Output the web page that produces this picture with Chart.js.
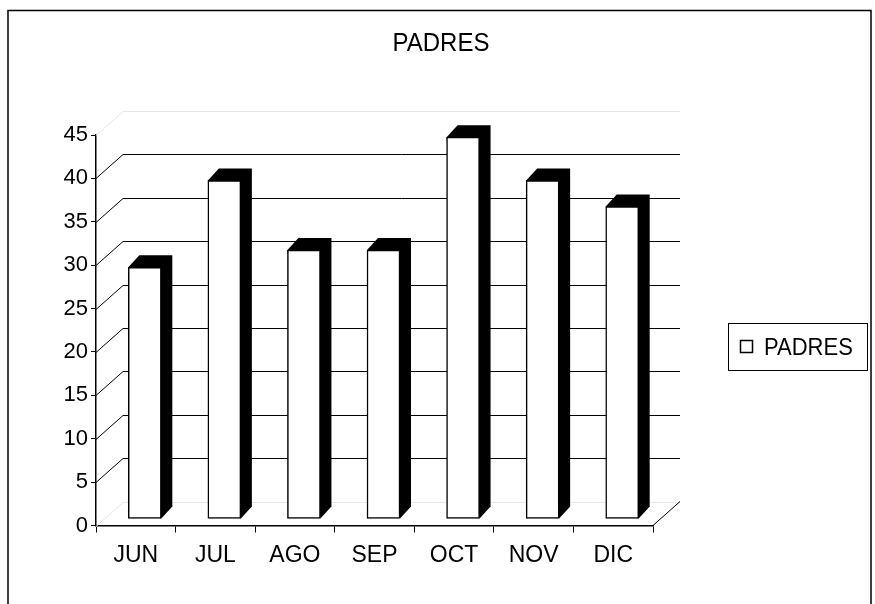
<!DOCTYPE html>
<html>
<head>
<meta charset="utf-8">
<script src="https://cdn.jsdelivr.net/npm/chart.js@4.4.1/dist/chart.umd.min.js"></script>
<style>
body { margin: 0; background: #fff; }
canvas { display: block; }
</style>
</head>
<body>
<canvas id="grafico" width="875" height="604"></canvas>
<script>
var titulo = 'PADRES';
var meses = ['JUN', 'JUL', 'AGO', 'SEP', 'OCT', 'NOV', 'DIC'];
var padres = [29, 39, 31, 31, 44, 39, 36];
var marcasY = [0, 5, 10, 15, 20, 25, 30, 35, 40, 45];

var fuente = '"Liberation Sans", Arial, sans-serif';

// fondo 3D: pared del fondo, pared lateral, caras negras de las barras
var efecto3d = {
    id: 'efecto3d',
    beforeDraw: function(chart) {
        var ctx = chart.ctx;
        ctx.save();
        ctx.strokeStyle = '#000';
        ctx.lineWidth = 1.5;
        ctx.strokeRect(8, 10.5, 863, 620);
        // titulo, un poco estirado en vertical como en el original
        ctx.fillStyle = '#000';
        ctx.font = '24px ' + fuente;
        ctx.textAlign = 'center';
        ctx.textBaseline = 'middle';
        ctx.translate(441, 44);
        ctx.scale(1, 1.1);
        ctx.fillText(titulo, 0, 0);
        ctx.restore();
    },
    beforeDatasetsDraw: function(chart) {
        var ctx = chart.ctx;
        var a = chart.chartArea;
        var y = chart.scales.y;
        var fx = 27, fy = -24;
        ctx.save();
        ctx.lineWidth = 1;
        marcasY.forEach(function(v, i) {
            var py = Math.round(y.getPixelForValue(v)) + 0.5;
            var suave = (i === 0 || i === marcasY.length - 1);
            ctx.strokeStyle = suave ? '#e6e6e6' : '#000';
            ctx.beginPath();
            ctx.moveTo(a.left, py);
            ctx.lineTo(a.left + fx, py + fy);
            ctx.lineTo(a.right + fx, py + fy);
            ctx.stroke();
        });
        // borde derecho del piso
        ctx.strokeStyle = '#000';
        ctx.beginPath();
        ctx.moveTo(a.right, a.bottom);
        ctx.lineTo(a.right + fx, a.bottom + fy);
        ctx.stroke();
        ctx.restore();
    },
    beforeDatasetDraw: function(chart, args) {
        var ctx = chart.ctx;
        ctx.save();
        ctx.translate(9, -6.5);
        ctx.fillStyle = '#000';
        args.meta.data.forEach(function(b) {
            var izq = b.x - b.width / 2, der = b.x + b.width / 2;
            var arriba = b.y, abajo = b.base;
            ctx.beginPath();
            ctx.moveTo(izq, arriba);
            ctx.lineTo(izq + 11, arriba - 12);
            ctx.lineTo(der + 11, arriba - 12);
            ctx.lineTo(der + 11, abajo - 12);
            ctx.lineTo(der, abajo);
            ctx.closePath();
            ctx.fill();
        });
    },
    afterDatasetDraw: function(chart) {
        chart.ctx.restore();
    },
    afterDraw: function(chart) {
        var ctx = chart.ctx;
        ctx.save();
        ctx.strokeStyle = '#000';
        ctx.lineWidth = 1;
        ctx.strokeRect(728.5, 323.5, 139, 47);
        ctx.fillStyle = '#fff';
        ctx.fillRect(740, 340, 12, 12);
        ctx.lineWidth = 1.5;
        ctx.strokeRect(740.5, 340.5, 12, 12);
        ctx.fillStyle = '#000';
        ctx.font = '22px ' + fuente;
        ctx.textBaseline = 'middle';
        ctx.translate(764, 348);
        ctx.scale(1, 1.1);
        ctx.fillText(chart.data.datasets[0].label, 0, 0);
        ctx.restore();
    }
};

var ctx = document.getElementById('grafico');
var grafico = new Chart(ctx, {
    type: 'bar',
    data: {
        labels: meses,
        datasets: [
            {
                label: 'PADRES',
                data: padres,
                backgroundColor: '#fff',
                borderColor: '#000',
                borderWidth: 1.5,
                borderSkipped: false,
                barThickness: 33,
                clip: false
            }
        ]
    },
    options: {
        responsive: false,
        devicePixelRatio: 1,
        animation: false,
        layout: { padding: { left: 0, right: 222, top: 135, bottom: 0 } },
        plugins: {
            legend: { display: false },
            tooltip: { enabled: false },
            title: { display: false }
        },
        scales: {
            x: {
                offset: true,
                border: { display: true, color: '#000', width: 1.5 },
                grid: { offset: true, drawOnChartArea: false, color: '#000', tickLength: 7 },
                ticks: { color: '#000', padding: 9, font: { family: fuente, size: 23 } },
                afterFit: function(scale) { scale.height = 78.5; }
            },
            y: {
                min: marcasY[0],
                max: marcasY[marcasY.length - 1],
                border: { display: true, color: '#000', width: 1.5 },
                grid: { drawOnChartArea: false, color: '#000', tickLength: 5 },
                ticks: { stepSize: 5, color: '#000', padding: 3, font: { family: fuente, size: 22 } },
                afterFit: function(scale) { scale.width = 96; }
            }
        }
    },
    plugins: [efecto3d]
});
</script>
</body>
</html>
